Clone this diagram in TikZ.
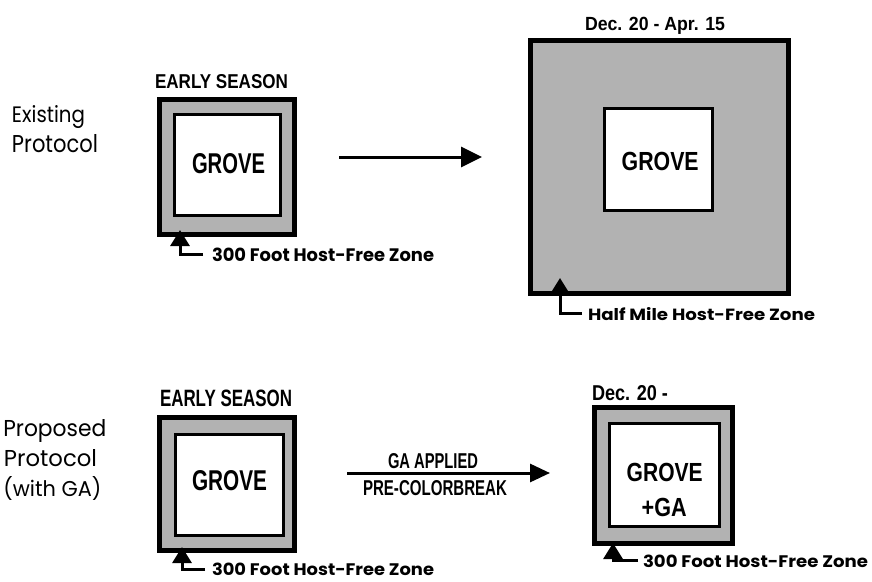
\documentclass[tikz,border=0pt]{standalone}
\usepackage{fontspec}
\usepackage{graphicx}
\setmainfont{Liberation Sans}
\newfontfamily\pop{Poppins}
\usetikzlibrary{arrows.meta}
\newcommand{\fitt}[3]{\resizebox{#1pt}{#2pt}{#3}}
\definecolor{zonegray}{gray}{0.70}
\begin{document}
\begin{tikzpicture}[x=1pt,y=-1pt,
  zoneframe/.style={draw=black, line width=5pt, fill=zonegray, inner sep=0pt, outer sep=0pt},
  groveframe/.style={draw=black, line width=3pt, fill=white, inner sep=0pt, outer sep=0pt},
  txt/.style={inner sep=0pt, outer sep=0pt, anchor=base west},
  ptr/.style={line width=3pt, -{Triangle[width=19pt,length=16pt]}},
  flow/.style={line width=3pt, -{Triangle[width=20pt,length=21pt]}}]
\useasboundingbox (0,0) rectangle (872,581);

% ---------- existing protocol ----------
\node[txt] (exist) at (12,122) {\pop\fitt{73}{17}{Existing}};
\node[txt] (prot1) at (12,152) {\pop\fitt{86}{18}{Protocol}};

\node[zoneframe, minimum width=135pt, minimum height=135pt] (z1) at (226.7,166.7) {};
\node[groveframe, minimum width=106pt, minimum height=101pt] (g1) at (227.5,165) {};
\node[txt] (es1) at (155,88.3) {\fitt{133}{14}{\bfseries EARLY SEASON}};
\node[txt] (gt1) at (192,173.3) {\fitt{73}{20}{\bfseries GROVE}};
\node[txt] (zt1) at (212,261.5) {\pop\bfseries\fitt{222}{13.5}{300 Foot Host-Free Zone}};
\coordinate (p1) at (180,230);
\draw[ptr] ([xshift=-9pt]zt1.west) -| (p1);

\coordinate (a1s) at (339,157);
\coordinate (a1e) at (482,157);
\draw[flow] (a1s) -- (a1e);

\node[zoneframe, minimum width=258pt, minimum height=253pt] (z2) at (659.5,167) {};
\node[groveframe, minimum width=108pt, minimum height=102pt] (g2) at (658.5,159.5) {};
\node[txt] (dec1) at (585,30) {\fitt{140}{13.3}{\bfseries Dec. 20 - Apr. 15}};
\node[txt] (gt2) at (621.7,170) {\fitt{77}{18.3}{\bfseries GROVE}};
\node[txt] (zt2) at (588,320) {\pop\bfseries\fitt{227}{13}{Half Mile Host-Free Zone}};
\coordinate (p2) at (560,278);
\draw[ptr] ([xshift=-6pt]zt2.west) -| (p2);

% ---------- proposed protocol ----------
\node[txt] (prop) at (3.3,436.7) {\pop\fitt{103}{17}{Proposed}};
\node[txt] (prot2) at (4,466.7) {\pop\fitt{93}{17}{Protocol}};
\node[txt] (with) at (3.3,496.7) {\pop\fitt{98}{20}{(with GA)}};

\node[zoneframe, minimum width=135pt, minimum height=133pt] (z3) at (227,484) {};
\node[groveframe, minimum width=108pt, minimum height=101pt] (g3) at (229.5,485) {};
\node[txt] (es2) at (160,406) {\fitt{132}{16.5}{\bfseries EARLY SEASON}};
\node[txt] (gt3) at (192,490) {\fitt{75}{20}{\bfseries GROVE}};
\node[txt] (zt3) at (212,575.5) {\pop\bfseries\fitt{222}{12.5}{300 Foot Host-Free Zone}};
\coordinate (p3) at (182,547);
\draw[ptr] ([xshift=-7pt]zt3.west) -| (p3);

\coordinate (a2s) at (347,473);
\coordinate (a2e) at (550,473);
\draw[flow, -{Triangle[width=18pt,length=20pt]}] (a2s) -- (a2e);
\node[txt] (ga) at (388,468) {\fitt{90}{15}{\bfseries GA APPLIED}};
\node[txt] (pre) at (363,495) {\fitt{144}{15}{\bfseries PRE-COLORBREAK}};

\node[zoneframe, minimum width=138pt, minimum height=136pt] (z4) at (663.5,475.5) {};
\node[groveframe, minimum width=110pt, minimum height=103pt] (g4) at (664.5,475) {};
\node[txt] (dec2) at (592,400) {\fitt{76}{15}{\bfseries Dec. 20 -}};
\node[txt] (gt4) at (626.7,481.3) {\fitt{76}{18.3}{\bfseries GROVE}};
\node[txt] (gat4) at (641.7,516.3) {\fitt{45}{18.3}{\bfseries +GA}};
\node[txt] (zt4) at (643,567) {\pop\bfseries\fitt{225}{12.5}{300 Foot Host-Free Zone}};
\coordinate (p4) at (613,543);
\draw[ptr] ([xshift=-5pt]zt4.west) -| (p4);
\end{tikzpicture}
\end{document}
